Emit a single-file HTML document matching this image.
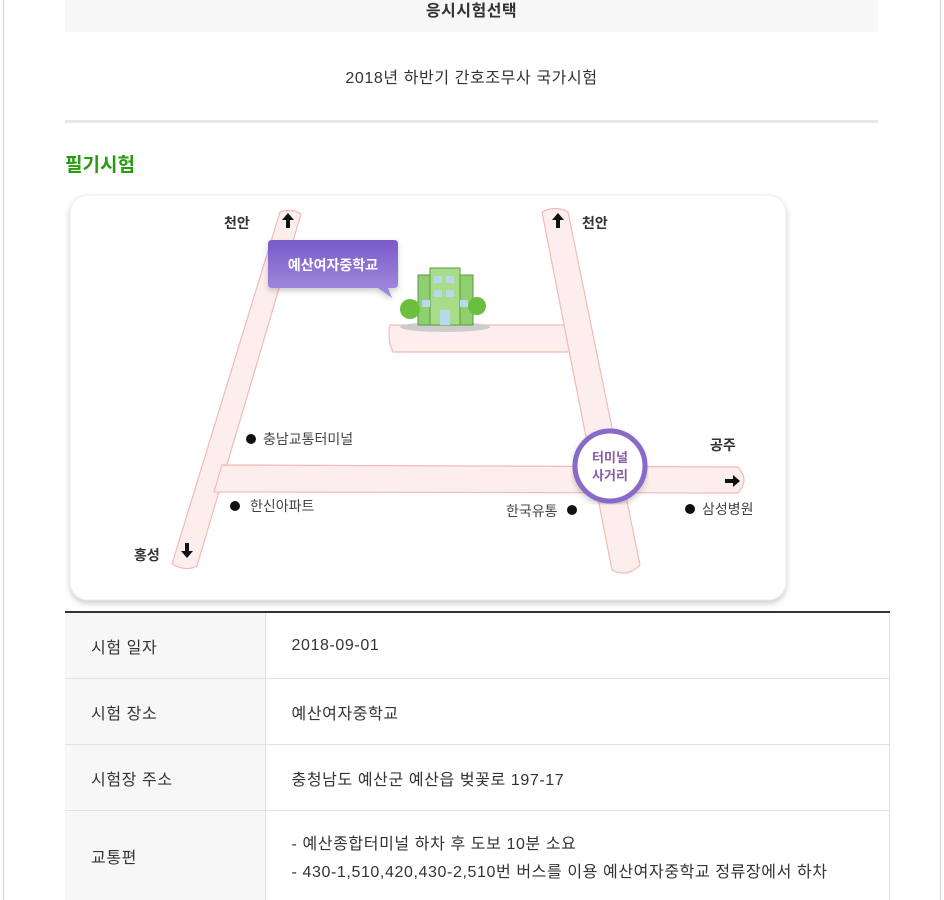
<!DOCTYPE html>
<html style="overflow:hidden;height:900px"><head><meta charset="utf-8"><style>
body{margin:0;width:944px;height:900px;background:#fff;font-family:"Liberation Sans","Noto Sans CJK KR",sans-serif;position:relative;overflow:hidden;color:#333}
.frame{position:absolute;left:3px;top:-2px;width:936px;height:902px;border:1px solid #d4d4d4;border-bottom:none}
.hdr{position:absolute;left:65px;top:0;width:813px;height:32px;background:#f7f7f7;text-align:center;font-size:16px;font-weight:bold;line-height:24px;color:#333;letter-spacing:0.5px}
.sub{position:absolute;left:65px;top:64px;width:813px;text-align:center;font-size:16px;color:#333;letter-spacing:0.6px}
.div{position:absolute;left:65px;top:120px;width:813px;height:3px;background:#e8e8e8}
.h2{position:absolute;left:65px;top:150px;font-size:19px;font-weight:bold;color:#2a9a12}
table{position:absolute;left:65px;top:611px;width:825px;border-collapse:collapse;border-top:2px solid #333;font-size:16px;letter-spacing:0.6px}
td{border-bottom:1px solid #e2e2e2;border-right:1px solid #e2e2e2;height:65px;padding:0}
td.l{width:200px;background:#f7f7f7;padding-left:26px;box-sizing:border-box}
td.r{padding-left:26px}
</style></head><body>
<div class="frame"></div>
<div class="hdr">응시시험선택</div>
<div class="sub">2018년 하반기 간호조무사 국가시험</div>
<div class="div"></div>
<div class="h2">필기시험</div>
<svg style="position:absolute;left:0;top:0" width="944" height="612" viewBox="0 0 944 612">
<defs>
<filter id="sh" x="-5%" y="-5%" width="110%" height="110%"><feDropShadow dx="0" dy="3" stdDeviation="3" flood-color="#000" flood-opacity="0.2"/></filter>
<linearGradient id="pg" x1="0" y1="0" x2="0" y2="1"><stop offset="0" stop-color="#7a5ac8"/><stop offset="1" stop-color="#a58ee0"/></linearGradient>
</defs>
<rect x="70" y="195" width="716" height="405" rx="18" fill="#fff" filter="url(#sh)" stroke="#eee"/>
<g fill="#fdeeee" stroke="#f2b9b9" stroke-width="1.2" stroke-linejoin="round">
<path d="M280 212 Q292 208 301 214 L197 566 Q186 572 172 564 Z"/>
<path d="M222 465 L738 467 Q750 480 738 493 L214 492 Z"/>
<path d="M390 325 L566 325 L572 352 L393 352 Q387 340 390 325 Z"/>
<path d="M542 212 Q555 205 568 212 L640 565 Q628 578 612 570 Z"/>
</g>
<g font-size="14" font-weight="bold" fill="#333">
<text x="224" y="228">천안</text><text x="582" y="228">천안</text>
<text x="134" y="560">홍성</text><text x="710" y="450">공주</text>
</g>
<g font-size="14" fill="#444">
<text x="263" y="444">충남교통터미널</text><text x="250" y="511">한신아파트</text>
<text x="506" y="516">한국유통</text><text x="702" y="514">삼성병원</text>
</g>
<g fill="#111"><circle cx="251" cy="439" r="5"/><circle cx="235" cy="506" r="5"/><circle cx="572" cy="510" r="5"/><circle cx="690" cy="509" r="5"/>
<path d="M288 213 l-6 7 h4 v8 h4 v-8 h4z"/><path d="M558 213 l-6 7 h4 v8 h4 v-8 h4z"/>
<path d="M187 558 l-6 -7 h4 v-8 h4 v8 h4z"/><path d="M740 481 l-7 -6 v4 h-8 v4 h8 v4z"/></g>
<circle cx="610" cy="466" r="35" fill="#fff" stroke="#8a6ac8" stroke-width="5" filter="url(#sh)"/>
<text x="610" y="462" text-anchor="middle" font-size="13" font-weight="bold" fill="#8a5aa8">터미널</text>
<text x="610" y="480" text-anchor="middle" font-size="13" font-weight="bold" fill="#8a5aa8">사거리</text>
<path d="M268 244 q0-4 4-4 h122 q4 0 4 4 v40 q0 4-4 4 h-6 l4 10 l-14-10 h-106 q-4 0-4-4z" fill="url(#pg)" filter="url(#sh)"/>
<text x="333" y="270" text-anchor="middle" font-size="14" font-weight="bold" fill="#fff">예산여자중학교</text>
<g>
<ellipse cx="445" cy="327" rx="45" ry="5" fill="#ccc"/>
<rect x="418" y="275" width="55" height="50" fill="#8fcf70" stroke="#5a9a40"/>
<rect x="430" y="268" width="30" height="57" fill="#a8dc88" stroke="#5a9a40"/>
<g fill="#b8d8f0"><rect x="434" y="276" width="8" height="7"/><rect x="446" y="276" width="8" height="7"/><rect x="434" y="290" width="8" height="7"/><rect x="446" y="290" width="8" height="7"/><rect x="422" y="300" width="8" height="7"/><rect x="460" y="300" width="8" height="7"/><rect x="440" y="310" width="10" height="15"/></g>
<circle cx="410" cy="309" r="10" fill="#6cbf3c"/><circle cx="477" cy="306" r="9" fill="#6cbf3c"/>
</g>
</svg>
<table>
<tr><td class="l">시험 일자</td><td class="r">2018-09-01</td></tr>
<tr><td class="l">시험 장소</td><td class="r">예산여자중학교</td></tr>
<tr><td class="l">시험장 주소</td><td class="r">충청남도 예산군 예산읍 벚꽃로 197-17</td></tr>
<tr><td class="l" style="height:90px">교통편</td><td class="r" style="line-height:28px;vertical-align:top;padding-top:20px">- 예산종합터미널 하차 후 도보 10분 소요<br>- 430-1,510,420,430-2,510번 버스를 이용 예산여자중학교 정류장에서 하차</td></tr>
</table>
</body></html>
